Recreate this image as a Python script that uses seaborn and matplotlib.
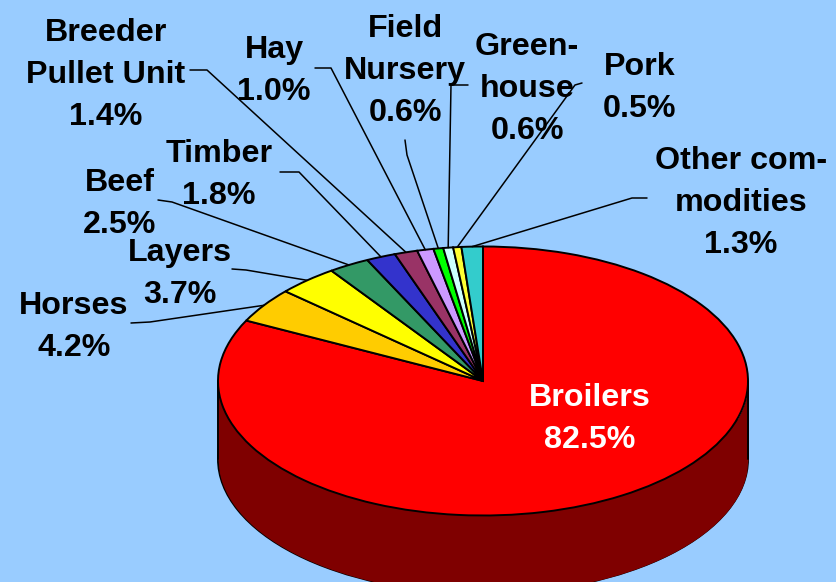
import numpy as np
import matplotlib
matplotlib.use("Agg")
import matplotlib.pyplot as plt
import seaborn as sns

categories = ["Broilers", "Horses", "Layers", "Beef", "Timber", "Breeder\nPullet Unit", "Hay",
              "Field\nNursery", "Green-\nhouse", "Pork", "Other com-\nmodities"]
values = [82.5, 4.2, 3.7, 2.5, 1.8, 1.4, 1.0, 0.6, 0.6, 0.5, 1.3]
colors = ["#FF0000", "#FFCC00", "#FFFF00", "#339966", "#3333CC", "#993366", "#CC99FF",
          "#00FF00", "#CCFFFF", "#FFFF33", "#33CCCC"]
side_color = "#7F0000"
bg = "#99CCFF"

sns.set_theme(style="white", rc={"font.family": ["Liberation Sans", "DejaVu Sans"]})
W, H = 836, 582
fig = plt.figure(figsize=(W / 100, H / 100), dpi=100, facecolor=bg)

cx, cy, rx, ry, depth = 483, 381, 265, 134.5, 78
xlo, xhi, ylo, yhi = -1.1, 1.1, -1.8, 1.1
ax = fig.add_axes([(cx + xlo * rx) / W, (H - cy + ylo * ry) / H,
                   (xhi - xlo) * rx / W, (yhi - ylo) * ry / H])
d = depth / ry
edge = dict(edgecolor="black", linewidth=1.4)
x = np.linspace(-1, 1, 400)
low = -np.sqrt(1 - x ** 2)
ax.pie([1], colors=[side_color], center=(0, -d), wedgeprops=edge, radius=1)
ax.fill_between(x, low - d, low, color=side_color, linewidth=0, zorder=2)
ax.plot([-1, -1], [0, -d], color="black", lw=1.4, zorder=2)
ax.plot([1, 1], [0, -d], color="black", lw=1.4, zorder=2)
wedges, _ = ax.pie(values, colors=colors, startangle=90, counterclock=False, wedgeprops=edge)
for w in wedges:
    w.set_zorder(3)
ax.set_xlim(xlo, xhi)
ax.set_ylim(ylo, yhi)
ax.set_aspect("auto")
ax.axis("off")

ov = fig.add_axes([0, 0, 1, 1], facecolor="none")
ov.set_xlim(0, W)
ov.set_ylim(H, 0)
ov.axis("off")

# label centre (px) and leader start / elbow (px)
layout = {
    1: ((74, 327), [(131, 323), (150, 322)]),
    2: ((180, 274), [(232, 269), (246, 270)]),
    3: ((120, 204), [(158, 200), (172, 202)]),
    4: ((219, 175), [(280, 172), (299, 172)]),
    5: ((106, 75), [(190, 70), (207, 70)]),
    6: ((274, 71), [(315, 68), (331, 68)]),
    7: ((405, 71), [(405, 140), (407, 155)]),
    8: ((527, 89), [(468, 85), (451, 85)]),
    9: ((640, 88), [(582, 83), (575, 85)]),
    10: ((741, 203), [(647, 198), (632, 198)]),
}
fs = 23.2
mids = [(w.theta1 + w.theta2) / 2 for w in wedges]
for i, ((tx, ty), pts) in layout.items():
    ang = np.deg2rad(mids[i])
    ex, ey = cx + rx * np.cos(ang), cy - ry * np.sin(ang)
    px = [p[0] for p in pts] + [ex]
    py = [p[1] for p in pts] + [ey]
    ov.plot(px, py, color="black", lw=1.1, zorder=1)
    ov.text(tx, ty, f"{categories[i]}\n{values[i]:.1f}%", ha="center", va="center",
            fontsize=fs, fontweight="bold", color="black", linespacing=1.52)
ov.text(590, 419, f"{categories[0]}\n{values[0]:.1f}%", ha="center", va="center",
        fontsize=fs, fontweight="bold", color="white", linespacing=1.52)

fig.savefig("out.png", dpi=100, facecolor=bg)
